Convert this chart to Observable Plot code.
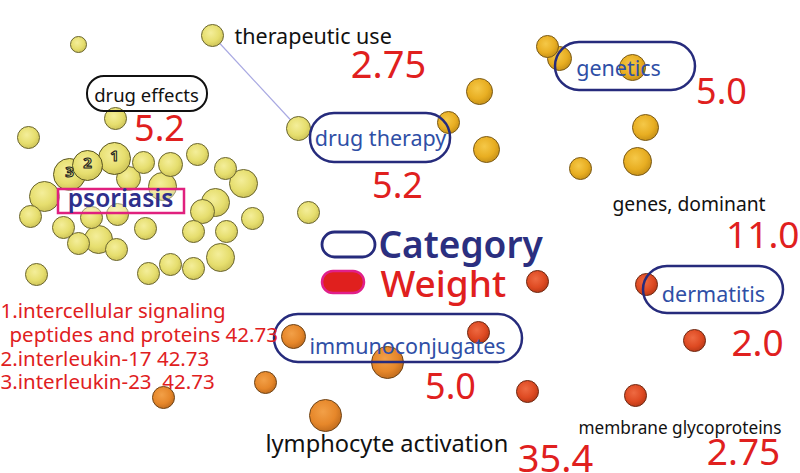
<!DOCTYPE html>
<html><head><meta charset="utf-8">
<script src="https://cdn.jsdelivr.net/npm/d3@7"></script>
<script src="https://cdn.jsdelivr.net/npm/@observablehq/plot@0.6"></script>
<style>html,body{margin:0;padding:0;background:#fff;overflow:hidden}svg{display:block}</style>
</head><body><div id="chart"></div>
<script>
// ---- bubble map data: [x, y, size] in map units ----
const psoriasisCluster = [[78,44,8],[212,35,11],[115,118,11],[28,137,11],[143,162,11],[170,164,12],[197,154,11],[225,168,11],[243,183,14],[44,196,15],[128,178,12],[162,186,14],[215,202,14],[202,211,12],[30,216,11],[91,217,11],[117,214,11],[63,227,11],[145,228,11],[193,231,11],[226,231,11],[252,218,11],[98,239,14],[78,243,11],[116,249,11],[220,257,14],[170,264,11],[148,273,11],[193,268,11],[36,274,11],[298,128,12],[308,212,11]];
const rankedBubbles = [[114,158,16,"1"],[87,165,15,"2"],[69,174,16,"3"]];
const geneticsCluster = [[547,46,11],[559,58,12],[632,67,13],[479,91,13],[448,122,11],[486,149,13],[645,127,13],[580,168,11],[637,161,14]];
const lymphocyteCluster = [[293,336,12],[387,362,16],[265,382,11],[163,397,11],[325,415,16]];
const dermatitisCluster = [[537,281,11],[646,284,11],[478,332,11],[694,340,11],[527,391,11],[635,395,11]];
const links = [[212,35,298,128]];

// ---- category labels and weights ----
const categoryBoxes = [
  {name:"drug therapy", x1:310, x2:450, y1:113, y2:162, bx:380, by:145, fs:21.5},
  {name:"genetics", x1:555, x2:695, y1:42, y2:90, bx:618, by:75, fs:21.5},
  {name:"dermatitis", x1:643, x2:783, y1:266, y2:313, bx:713, by:301, fs:21.5},
  {name:"immunoconjugates", x1:274, x2:522, y1:314, y2:362, bx:407, by:353, fs:21.5}
];
const plainTerms = [
  {name:"therapeutic use", x:234, by:43, fs:21.5, anchor:"start"},
  {name:"genes, dominant", x:612, by:210, fs:19.3, anchor:"start"},
  {name:"lymphocyte activation", x:265, by:451, fs:23.6, anchor:"start"},
  {name:"membrane glycoproteins", x:578, by:433, fs:17.2, anchor:"start"}
];
const weights = [
  {w:"2.75", x:388, by:77, fs:38, anchor:"middle"},
  {w:"5.2", x:159, by:140, fs:36, anchor:"middle"},
  {w:"5.2", x:397, by:197, fs:36, anchor:"middle"},
  {w:"5.0", x:721, by:103, fs:36, anchor:"middle"},
  {w:"11.0", x:799, by:247, fs:37, anchor:"end"},
  {w:"2.0", x:757, by:355, fs:37, anchor:"middle"},
  {w:"5.0", x:450, by:398, fs:36, anchor:"middle"},
  {w:"35.4", x:555, by:471, fs:38, anchor:"middle"},
  {w:"2.75", x:743, by:464, fs:37, anchor:"middle"}
];
const topTerms = ["1.intercellular signaling", "  peptides and proteins 42.73", "2.interleukin-17 42.73", "3.interleukin-23  42.73"];
const topTermX = [0, 9, 0, 0];
const topTermBaseline = [317, 341, 365, 388];

// ---- build ----
const toObj = a => a.map(d => ({x:d[0], y:d[1], r:d[2], label:d[3]}));
const mid = (by, fs) => by - 0.32*fs;

const marks = [];
marks.push(Plot.link(links, {x1:d=>d[0], y1:d=>d[1], x2:d=>d[2], y2:d=>d[3], stroke:"#A9A9E2", strokeWidth:1.2}));
const bub = (data, fill, stroke) => Plot.dot(toObj(data), {x:"x", y:"y", r:"r", fill, stroke, strokeWidth:1});
marks.push(bub(psoriasisCluster, "url(#gY)", "#6a6530"));
marks.push(bub(rankedBubbles, "url(#gY)", "#5a5520"));
marks.push(Plot.text(toObj(rankedBubbles), {x:"x", y:d=>d.y-2, text:"label", fontSize:15, fontWeight:"bold", fill:"#F0E878", stroke:"#222", strokeWidth:1.1, paintOrder:"normal"}));
marks.push(bub(geneticsCluster, "url(#gG)", "#7a5a18"));
marks.push(bub(lymphocyteCluster, "url(#gO)", "#6e4418"));
marks.push(bub(dermatitisCluster, "url(#gR)", "#6e2a14"));

// drug effects box
marks.push(Plot.rect([{x1:87,x2:207,y1:76,y2:111}], {x1:"x1",x2:"x2",y1:"y1",y2:"y2", rx:17, fill:"none", stroke:"#111", strokeWidth:2}));
marks.push(Plot.text(["drug effects"], {x:146, y:mid(101,18.5), text:d=>d, fontSize:18.5, fill:"#111"}));
// psoriasis box
marks.push(Plot.rect([{x1:58,x2:184,y1:189,y2:213}], {x1:"x1",x2:"x2",y1:"y1",y2:"y2", fill:"#fff", fillOpacity:0.35, stroke:"#E0207E", strokeWidth:2.5}));
marks.push(Plot.text(["psoriasis"], {x:120, y:mid(206,24.5), text:d=>d, fontSize:24.5, fontWeight:600, fill:"#2E2F8C"}));

// category boxes
marks.push(Plot.rect(categoryBoxes, {x1:"x1",x2:"x2",y1:"y1",y2:"y2", rx:24, fill:"none", stroke:"#262B7C", strokeWidth:2.5}));
for (const c of categoryBoxes) marks.push(Plot.text([c], {x:"bx", y:d=>mid(d.by,d.fs), text:"name", fontSize:c.fs, fill:"#2F4FA6"}));
for (const t of plainTerms) marks.push(Plot.text([t], {x:"x", y:d=>mid(d.by,d.fs), text:"name", fontSize:t.fs, fill:"#111", textAnchor:t.anchor}));
for (const w of weights) marks.push(Plot.text([w], {x:"x", y:d=>mid(d.by,d.fs), text:"w", fontSize:w.fs, fill:"#E0201E", textAnchor:w.anchor}));
marks.push(Plot.text(topTerms.map((t,i)=>({t, x:topTermX[i], by:topTermBaseline[i]})), {x:"x", y:d=>mid(d.by,20.5), text:d=>d.t.trim(), fontSize:20.5, fill:"#E0201E", textAnchor:"start"}));

// legend
marks.push(Plot.rect([{x1:322,x2:375,y1:232,y2:257}], {x1:"x1",x2:"x2",y1:"y1",y2:"y2", rx:12.5, fill:"none", stroke:"#262B7C", strokeWidth:2.8}));
marks.push(Plot.rect([{x1:322,x2:364,y1:271,y2:293}], {x1:"x1",x2:"x2",y1:"y1",y2:"y2", rx:11, fill:"#E0201E", stroke:"#E0208A", strokeWidth:2.5}));
marks.push(Plot.text(["Category"], {x:378, y:mid(257,37), text:d=>d, fontSize:37, fontWeight:600, fill:"#2B2F80", textAnchor:"start"}));
marks.push(Plot.text(["Weight"], {x:380, y:mid(296,37), text:d=>d, fontSize:37, fontWeight:500, fill:"#E0201E", textAnchor:"start"}));

const chart = Plot.plot({
  width: 800, height: 473,
  margin: 0,
  x: {domain:[0,800], range:[0,800], axis:null},
  y: {domain:[0,473], range:[0,473], axis:null},
  r: {type:"identity"},
  style: {fontFamily:"'Noto Sans', 'Open Sans', sans-serif", background:"#fff"},
  marks
});

const ns = "http://www.w3.org/2000/svg";
const defs = document.createElementNS(ns, "defs");
const grads = {gY:["#F4EE9A","#E6DE6E","#CFC55A"], gG:["#F5C848","#E8AE22","#C99318"], gO:["#F2A048","#E6872A","#C46E1E"], gR:["#EE6A42","#DE4A22","#BC3A18"]};
for (const [id, [a,b,c]] of Object.entries(grads)) {
  const g = document.createElementNS(ns, "radialGradient");
  g.setAttribute("id", id); g.setAttribute("cx","0.42"); g.setAttribute("cy","0.38"); g.setAttribute("r","0.62");
  [[0,a],[0.65,b],[1,c]].forEach(([o,col]) => { const s = document.createElementNS(ns,"stop"); s.setAttribute("offset",o); s.setAttribute("stop-color",col); g.appendChild(s); });
  defs.appendChild(g);
}
chart.insertBefore(defs, chart.firstChild);
document.getElementById("chart").appendChild(chart);
</script>
</body></html>
